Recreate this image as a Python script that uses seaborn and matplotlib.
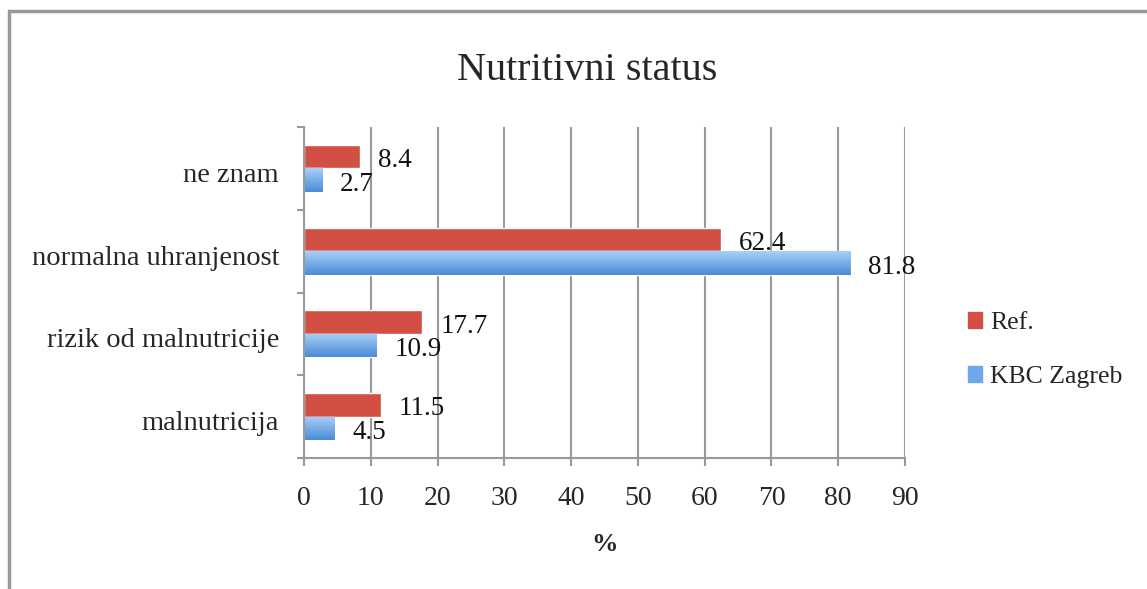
import numpy as np
import pandas as pd
import matplotlib
matplotlib.use("Agg")
import matplotlib.pyplot as plt
import matplotlib.transforms as mtransforms
import seaborn as sns
from matplotlib.patches import Rectangle, Patch

# --- Données ---
categories = ["ne znam", "normalna uhranjenost", "rizik od malnutricije", "malnutricija"]
ref_values = [8.4, 62.4, 17.7, 11.5]
kbc_values = [2.7, 81.8, 10.9, 4.5]
series_names = ["Ref.", "KBC Zagreb"]
x_ticks = [0, 10, 20, 30, 40, 50, 60, 70, 80, 90]

df = pd.DataFrame({
    "kategorija": categories * 2,
    "vrijednost": ref_values + kbc_values,
    "serija": [series_names[0]] * 4 + [series_names[1]] * 4,
})

sns.set_style("white")
plt.rcParams["font.family"] = ["Liberation Serif", "DejaVu Serif"]

red = "#d24f44"
blue = "#6ea8ec"

fig = plt.figure(figsize=(11.47, 5.89), dpi=100)
ax = fig.add_axes([304 / 1147, 1 - 458 / 589, 601 / 1147, 331 / 589])

sns.barplot(data=df, y="kategorija", x="vrijednost", hue="serija",
            order=categories, hue_order=series_names,
            palette=[red, blue], width=0.57, orient="h",
            saturation=1, legend=False, ax=ax)

# gradient na plavim stupcima
grad = np.linspace(0, 1, 64).reshape(-1, 1)
cmap = matplotlib.colors.LinearSegmentedColormap.from_list("g", ["#a9cff9", "#4a8cd6"])
for p in ax.containers[1]:
    x0, y0 = p.get_x(), p.get_y()
    w, h = p.get_width(), p.get_height()
    im = ax.imshow(grad, extent=[x0, x0 + w, y0 + h, y0], cmap=cmap,
                   aspect="auto", zorder=p.get_zorder() + 0.1)
    im.set_clip_path(p)

for cont in ax.containers:
    anns = ax.bar_label(cont, labels=[f"{v:.1f}" for v in cont.datavalues],
                        padding=13, fontsize=19.5, color="#111111")
    for a in anns:
        a.xyann = (13, -3)

ax.set_xlim(0, 90)
ax.set_ylim(3.5, -0.5)
ax.set_xticks(x_ticks)
ax.tick_params(axis="x", bottom=True, labelsize=20, length=6, width=1.5,
               color="#999999", pad=14, direction="out")
ax.set_yticks([-0.5, 0.5, 1.5, 2.5, 3.5], minor=True)
ax.tick_params(axis="y", which="minor", left=True, length=5, width=1.5,
               color="#999999", direction="out")
ax.tick_params(axis="y", which="major", left=False, length=0, labelsize=20.5, pad=18)
shift = mtransforms.ScaledTranslation(0, -4 / 100, fig.dpi_scale_trans)
for lbl in ax.get_yticklabels():
    lbl.set_transform(lbl.get_transform() + shift)
ax.grid(axis="x", color="#999999", linewidth=1.5)
ax.set_axisbelow(True)
for s in ["top", "right"]:
    ax.spines[s].set_visible(False)
for s in ["left", "bottom"]:
    ax.spines[s].set_color("#999999")
    ax.spines[s].set_linewidth(1.5)

ax.set_ylabel("")
ax.set_xlabel("%", fontsize=19, fontweight="bold", labelpad=16)

fig.text(587 / 1147, 1 - 70 / 589, "Nutritivni status", fontsize=29,
         ha="center", va="center")

handles = [Patch(color=red, label=series_names[0]),
           Patch(color=blue, label=series_names[1])]
fig.legend(handles=handles, loc="center left", bbox_to_anchor=(945 / 1147, 1 - 350 / 589),
           frameon=False, fontsize=18.5, handlelength=0.55, handleheight=0.55,
           handletextpad=0.3, labelspacing=1.25)

# okvir slike
fig.patches.append(Rectangle((9 / 1147, -0.1), 1.2, 1 - 11 / 589 + 0.1,
                             transform=fig.transFigure, fill=False,
                             edgecolor="#999999", linewidth=2.5))

fig.savefig("out.png", dpi=100)
